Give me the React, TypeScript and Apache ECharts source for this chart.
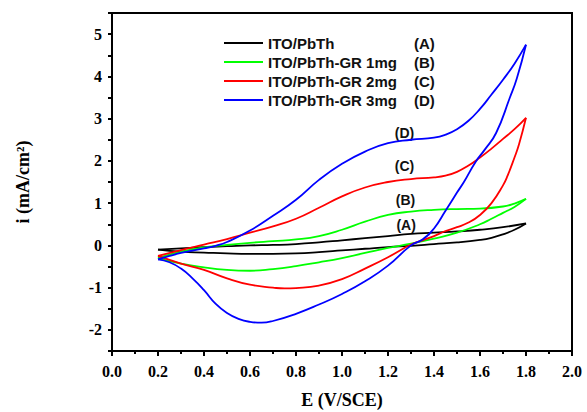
import React, { useEffect, useRef } from "react";
import * as echarts from "echarts";

const seriesNames = ["ITO/PbTh", "ITO/PbTh-GR 1mg", "ITO/PbTh-GR 2mg", "ITO/PbTh-GR 3mg"];
const seriesTags = ["(A)", "(B)", "(C)", "(D)"];
const seriesColors = ["#000000", "#00ff00", "#ff0000", "#0000ff"];

// E (V/SCE), i (mA/cm2) — anodic (forward) and cathodic (reverse) sweeps
const blackAnodic = [[0.2,-0.1],[0.3,-0.07],[0.4,-0.04],[0.5,-0.02],[0.6,0],[0.7,0.01],[0.8,0.03],[0.9,0.07],[1.0,0.12],[1.1,0.17],[1.2,0.22],[1.3,0.27],[1.4,0.3],[1.5,0.33],[1.6,0.37],[1.7,0.43],[1.8,0.52]];
const blackCathodic = [[1.8,0.52],[1.75,0.37],[1.7,0.26],[1.65,0.18],[1.6,0.13],[1.5,0.07],[1.4,0.03],[1.3,-0.01],[1.2,-0.04],[1.1,-0.08],[1.0,-0.12],[0.9,-0.16],[0.8,-0.19],[0.7,-0.2],[0.6,-0.2],[0.5,-0.19],[0.4,-0.17],[0.3,-0.15],[0.2,-0.1]];

const greenAnodic = [[0.2,-0.3],[0.25,-0.22],[0.3,-0.15],[0.4,-0.05],[0.5,0.01],[0.6,0.06],[0.7,0.1],[0.8,0.14],[0.9,0.22],[1.0,0.37],[1.1,0.56],[1.2,0.72],[1.3,0.8],[1.4,0.84],[1.5,0.86],[1.6,0.87],[1.7,0.92],[1.75,0.99],[1.8,1.1]];
const greenCathodic = [[1.8,1.1],[1.75,0.91],[1.7,0.77],[1.65,0.63],[1.6,0.5],[1.5,0.3],[1.4,0.16],[1.3,0.04],[1.2,-0.06],[1.1,-0.18],[1.0,-0.3],[0.9,-0.4],[0.8,-0.49],[0.7,-0.56],[0.6,-0.6],[0.5,-0.58],[0.4,-0.52],[0.3,-0.43],[0.2,-0.3]];

const redAnodic = [[0.2,-0.25],[0.3,-0.11],[0.4,0.02],[0.5,0.15],[0.6,0.3],[0.7,0.45],[0.8,0.63],[0.9,0.89],[1.0,1.16],[1.1,1.37],[1.2,1.5],[1.3,1.57],[1.4,1.61],[1.45,1.65],[1.5,1.74],[1.55,1.89],[1.6,2.08],[1.65,2.29],[1.7,2.52],[1.75,2.75],[1.8,3.02]];
const redCathodic = [[1.8,3.02],[1.77,2.4],[1.75,2.08],[1.72,1.65],[1.7,1.42],[1.65,1.0],[1.6,0.72],[1.55,0.54],[1.5,0.43],[1.45,0.34],[1.4,0.22],[1.35,0.12],[1.3,0.02],[1.2,-0.28],[1.1,-0.55],[1.0,-0.8],[0.9,-0.95],[0.8,-1.01],[0.75,-1.02],[0.7,-1.0],[0.6,-0.93],[0.5,-0.78],[0.4,-0.58],[0.3,-0.43],[0.2,-0.25]];

const blueAnodic = [[0.2,-0.33],[0.25,-0.25],[0.3,-0.18],[0.4,-0.07],[0.45,-0.01],[0.5,0.08],[0.6,0.35],[0.7,0.7],[0.8,1.08],[0.9,1.55],[1.0,1.93],[1.1,2.22],[1.2,2.42],[1.3,2.5],[1.4,2.55],[1.45,2.62],[1.5,2.75],[1.55,2.95],[1.6,3.23],[1.65,3.57],[1.7,3.92],[1.75,4.3],[1.8,4.75]];
const blueCathodic = [[1.8,4.75],[1.76,3.95],[1.73,3.5],[1.67,2.66],[1.62,2.26],[1.58,1.97],[1.53,1.5],[1.5,1.25],[1.45,0.82],[1.4,0.4],[1.35,0.14],[1.3,0.0],[1.2,-0.48],[1.1,-0.85],[1.0,-1.15],[0.9,-1.4],[0.8,-1.62],[0.7,-1.79],[0.65,-1.83],[0.6,-1.81],[0.55,-1.74],[0.5,-1.6],[0.45,-1.38],[0.4,-1.06],[0.35,-0.78],[0.3,-0.55],[0.25,-0.4],[0.2,-0.33]];

const anodicSweeps = [blackAnodic, greenAnodic, redAnodic, blueAnodic];
const cathodicSweeps = [blackCathodic, greenCathodic, redCathodic, blueCathodic];
// curve annotation positions [E, i]
const tagPositions = [[1.279, 0.49], [1.276, 1.08], [1.272, 1.87], [1.272, 2.66]];

const SANS = "Liberation Sans, Arial, sans-serif";
const SERIF = "Liberation Serif, Times New Roman, serif";

export default function App() {
  const ref = useRef<HTMLDivElement>(null);
  useEffect(() => {
    document.body.style.margin = "0";
    const chart = echarts.init(ref.current!, null, { renderer: "svg" });
    const series: any[] = [];
    seriesNames.forEach((name, k) => {
      const base = {
        type: "line",
        name,
        showSymbol: false,
        symbol: "none",
        smooth: 0.5,
        smoothConstraint: false,
        lineStyle: { color: seriesColors[k], width: 1.8 },
        itemStyle: { color: seriesColors[k] },
        z: 3 + k,
      };
      series.push({
        ...base,
        data: anodicSweeps[k],
        markPoint: {
          symbol: "circle",
          symbolSize: 0,
          silent: true,
          label: {
            show: true,
            position: "inside",
            formatter: seriesTags[k],
            color: "#111",
            fontFamily: SANS,
            fontWeight: "bold",
            fontSize: 14,
          },
          data: [{ coord: tagPositions[k] }],
        },
      });
      series.push({ ...base, data: cathodicSweeps[k] });
    });

    chart.setOption({
      animation: false,
      backgroundColor: "#ffffff",
      grid: {
        left: 112, right: 15, top: 13, bottom: 61,
        containLabel: false, outerBoundsMode: "none",
        show: true, borderColor: "#000", borderWidth: 2, backgroundColor: "transparent",
      },
      legend: {
        data: seriesNames.map((name) => ({ name, icon: "rect" })),
        orient: "vertical",
        left: 224,
        top: 35,
        padding: 0,
        itemWidth: 39,
        itemHeight: 2,
        itemGap: 3,
        selectedMode: false,
        textStyle: {
          fontFamily: SANS,
          fontWeight: "bold",
          fontSize: 15,
          color: "#111",
          lineHeight: 16,
          rich: {
            n: { width: 146, fontFamily: SANS, fontWeight: "bold", fontSize: 15, color: "#111" },
            t: { fontFamily: SANS, fontWeight: "bold", fontSize: 15, color: "#111" },
          },
        },
        formatter: (name: string) => `{n|${name}}{t|${seriesTags[seriesNames.indexOf(name)]}}`,
      },
      xAxis: {
        type: "value",
        min: 0,
        max: 2,
        interval: 0.2,
        name: "E (V/SCE)",
        nameLocation: "middle",
        nameGap: 40,
        nameTextStyle: { fontFamily: SERIF, fontWeight: "bold", fontSize: 18, color: "#000" },
        axisLine: { show: true, onZero: false, lineStyle: { color: "#000", width: 2 } },
        axisTick: { show: true, inside: false, length: 5, lineStyle: { color: "#000", width: 2 } },
        minorTick: { show: true, splitNumber: 2, length: 3, lineStyle: { color: "#000", width: 2 } },
        splitLine: { show: false },
        axisLabel: {
          margin: 12,
          fontFamily: SERIF,
          fontWeight: "bold",
          fontSize: 16,
          color: "#000",
          formatter: (v: number) => v.toFixed(1),
        },
      },
      yAxis: {
        type: "value",
        min: -2.5,
        max: 5.5,
        interval: 0.5,
        name: "i (mA/cm²)",
        nameLocation: "middle",
        nameGap: 80,
        nameTextStyle: { fontFamily: SERIF, fontWeight: "bold", fontSize: 18, color: "#000" },
        axisLine: { show: true, onZero: false, lineStyle: { color: "#000", width: 2 } },
        axisTick: { show: true, inside: false, length: 4, lineStyle: { color: "#000", width: 2 } },
        splitLine: { show: false },
        axisLabel: {
          margin: 10,
          fontFamily: SERIF,
          fontWeight: "bold",
          fontSize: 16,
          color: "#000",
          formatter: (v: number) => (Math.abs(v - Math.round(v)) < 1e-6 ? String(Math.round(v)) : ""),
        },
      },
      series,
    });
    return () => chart.dispose();
  }, []);
  return <div ref={ref} style={{ width: 587, height: 412 }} />;
}
